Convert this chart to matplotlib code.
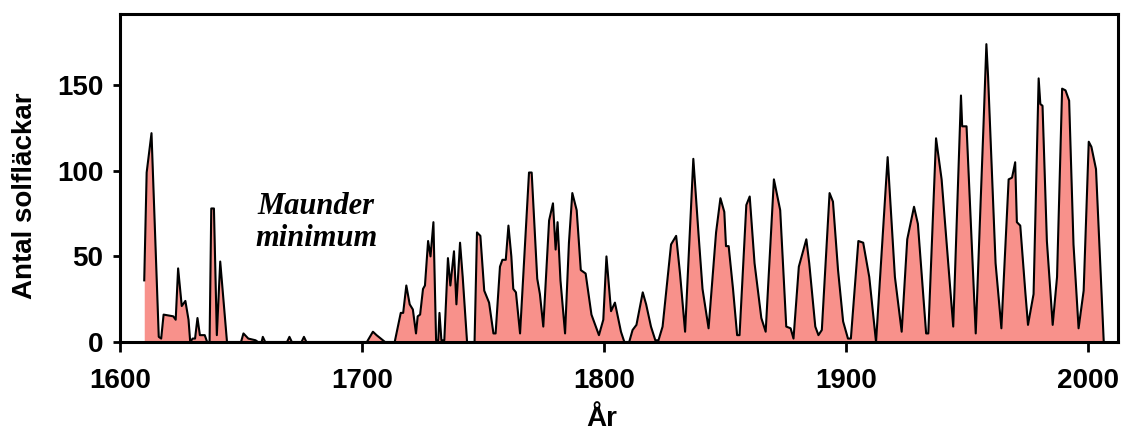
import numpy as np
import matplotlib
matplotlib.use('Agg')
import matplotlib.pyplot as plt

# sunspot curve, vertices (year, count)
years = [1610, 1611, 1613, 1616, 1617, 1618, 1622, 1623, 1624, 1625.5, 1627, 1628.3, 1629,
         1630, 1631, 1632, 1633, 1635, 1636, 1637, 1637.7, 1638.8, 1640, 1641.4, 1643, 1644.2,
         1650, 1651, 1653, 1656, 1657, 1658.5, 1659, 1660, 1669, 1670, 1671, 1675, 1676, 1677,
         1702, 1704.5, 1706, 1709.5, 1713.5, 1716, 1717, 1718.3, 1719.7, 1721, 1722.3, 1723,
         1724, 1725.2, 1726, 1727.3, 1728.3, 1729.5, 1730.6, 1731.5, 1732, 1732.8, 1734, 1735.5,
         1736.5, 1738, 1739, 1740.5, 1741.6, 1743.4, 1746.5, 1747.5, 1748.9, 1750.5, 1752.5,
         1754.3, 1755.2, 1757, 1758, 1759.4, 1760.5, 1761.7, 1762.5, 1763.6, 1765.3, 1769,
         1770.1, 1772.4, 1773.5, 1774.9, 1777.3, 1778.9, 1780, 1780.8, 1782, 1783.9, 1785.5,
         1786.9, 1788.7, 1790.4, 1792.4, 1794.8, 1797.9, 1799.7, 1801, 1802.9, 1804.5, 1807,
         1808.4, 1810.4, 1811.8, 1813.4, 1816, 1817.4, 1819.4, 1821.2, 1822.5, 1824.2, 1827.7,
         1829.8, 1831.4, 1833.5, 1836.9, 1839.1, 1840.7, 1843.2, 1846.3, 1848.1, 1849.7, 1850.4,
         1851.5, 1853.3, 1855, 1856, 1858.8, 1860.2, 1862.2, 1865, 1866.8, 1870.2, 1872.8,
         1875.3, 1877.1, 1878.3, 1880.5, 1883.6, 1884.8, 1887.3, 1888.6, 1890, 1893.2, 1894.6,
         1896.7, 1898.8, 1900.8, 1902, 1905.1, 1907.1, 1909.6, 1912.4, 1917.2, 1920.2, 1923,
         1925.3, 1928.1, 1929.7, 1933.1, 1934, 1937.2, 1939.5, 1944.3, 1947.5, 1948, 1949.8,
         1953.6, 1956.9, 1958, 1958.7, 1961.8, 1964.2, 1967.2, 1968.6, 1969.9, 1970.6, 1972,
         1974.1, 1975.2, 1977.5, 1979.6, 1980.3, 1981.2, 1983, 1985.4, 1987.2, 1989.3, 1990.7,
         1992.2, 1994, 1996.1, 1998.2, 2000.3, 2001.4, 2003.3, 2006.5]
spots = [36, 99, 122, 3, 2, 16, 15, 13, 43, 21, 24, 13, 0,
         2, 2, 14, 4, 4, 0, 0, 78, 78, 4, 47, 20, 0,
         0, 5, 2, 1, 0, 0, 3, 0, 0, 3, 0, 0, 3, 0,
         0, 6, 4, 0, 0, 17, 17, 33, 22, 19, 5, 15,
         16, 31, 33, 59, 50, 70, 1, 1, 17, 1, 1, 49,
         33, 53, 22, 58, 38, 0, 0, 64, 62, 30, 23,
         5, 5, 44, 48, 48, 68, 50, 31, 29, 5, 99,
         99, 37, 28, 9, 71, 81, 54, 70, 36, 5, 58,
         87, 77, 42, 40, 16, 4, 13, 50, 18, 23, 6,
         0, 0, 7, 10, 29, 22, 9, 1, 1, 9, 57,
         62, 40, 6, 107, 62, 31, 8, 64, 84, 76, 56,
         56, 31, 4, 4, 80, 85, 46, 14, 6, 95, 77,
         9, 8, 2, 44, 60, 46, 9, 4, 7, 87, 82,
         42, 12, 2, 2, 59, 58, 38, 0, 108, 38, 6,
         60, 79, 69, 5, 5, 119, 95, 9, 144, 126, 126,
         5, 130, 174, 155, 46, 8, 95, 96, 105, 70, 68,
         29, 10, 28, 154, 139, 138, 59, 10, 38, 148, 147,
         141, 57, 8, 30, 117, 114, 101, 0]

xticks = [1600, 1700, 1800, 1900, 2000]
yticks = [0, 50, 100, 150]

fig = plt.figure(figsize=(11.25, 4.34), dpi=100)
ax = fig.add_axes([0.1067, 0.212, 0.8871, 0.7557])

ax.fill_between(years, 0, spots, color='#f8918b', linewidth=0)
ax.plot(years, spots, color='black', linewidth=1.5)

ax.set_xlim(1600, 2012.4)
ax.set_ylim(0, 191.6)
ax.set_xticks(xticks)
ax.set_yticks(yticks)

for s in ax.spines.values():
    s.set_linewidth(2.2)
ax.tick_params(direction='out', length=5, width=2, labelsize=20, pad=7)
ax.tick_params(axis='x', length=7, pad=12)
for lab in ax.get_xticklabels() + ax.get_yticklabels():
    lab.set_fontfamily('Liberation Sans')
    lab.set_fontweight('bold')

ax.set_ylabel('Antal solfläckar', fontsize=20, fontweight='bold', family='Liberation Sans')
ax.yaxis.set_label_coords(-0.082, 0.445)
ax.set_xlabel('År', fontsize=20, fontweight='bold', family='Liberation Sans')
ax.xaxis.set_label_coords(0.483, -0.195)

ax.text(1681, 70, 'Maunder\nminimum', ha='center', va='center', fontsize=22,
        family='Liberation Serif', style='italic', fontweight='bold', linespacing=1.15)

fig.savefig('out.png', dpi=100)
